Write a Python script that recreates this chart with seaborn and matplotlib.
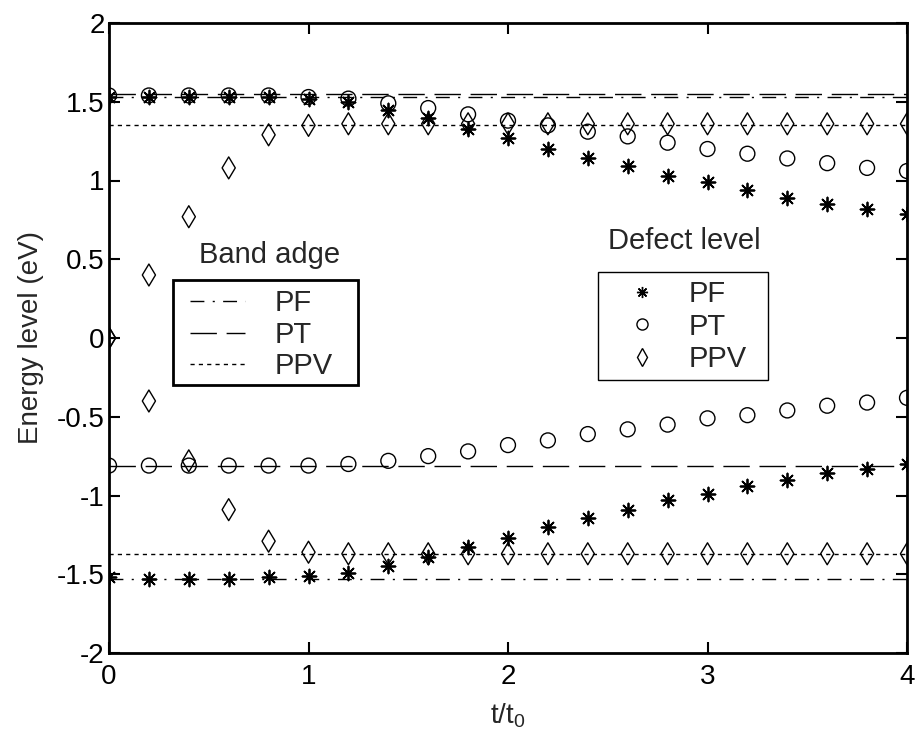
import numpy as np
import pandas as pd
import matplotlib
matplotlib.use("Agg")
import matplotlib.pyplot as plt
import seaborn as sns
from matplotlib.lines import Line2D
from matplotlib.patches import Rectangle

sns.set_theme(style="white")
plt.rcParams['font.family'] = ['Liberation Sans', 'DejaVu Sans']
plt.rcParams['mathtext.fontset'] = 'custom'
plt.rcParams['mathtext.rm'] = 'Liberation Sans'
plt.rcParams['mathtext.it'] = 'Liberation Sans'

t = [0.0, 0.2, 0.4, 0.6, 0.8, 1.0, 1.2, 1.4, 1.6, 1.8, 2.0,
     2.2, 2.4, 2.6, 2.8, 3.0, 3.2, 3.4, 3.6, 3.8, 4.0]

# Band edges (eV)
band_names = ["PF", "PT", "PPV"]
band_upper = [1.53, 1.55, 1.355]
band_lower = [-1.53, -0.815, -1.37]

# Defect levels (eV)
pf_upper = [1.53, 1.53, 1.53, 1.53, 1.53, 1.52, 1.50, 1.45, 1.40, 1.33, 1.27,
            1.20, 1.14, 1.09, 1.03, 0.99, 0.94, 0.89, 0.85, 0.82, 0.79]
pf_lower = [-1.52, -1.53, -1.53, -1.53, -1.52, -1.51, -1.49, -1.45, -1.39, -1.33, -1.27,
            -1.20, -1.14, -1.09, -1.03, -0.99, -0.94, -0.90, -0.86, -0.83, -0.80]
pt_upper = [1.54, 1.54, 1.54, 1.54, 1.54, 1.53, 1.52, 1.49, 1.46, 1.42, 1.38,
            1.35, 1.31, 1.28, 1.24, 1.20, 1.17, 1.14, 1.11, 1.08, 1.06]
pt_lower = [-0.81, -0.81, -0.81, -0.81, -0.81, -0.81, -0.80, -0.78, -0.75, -0.72, -0.68,
            -0.65, -0.61, -0.58, -0.55, -0.51, -0.49, -0.46, -0.43, -0.41, -0.38]
ppv_upper = [0.00, 0.40, 0.77, 1.08, 1.29, 1.35, 1.36, 1.36, 1.36, 1.36, 1.36,
             1.36, 1.36, 1.36, 1.36, 1.36, 1.36, 1.36, 1.36, 1.36, 1.36]
ppv_lower = [0.00, -0.40, -0.78, -1.09, -1.29, -1.36, -1.37, -1.37, -1.37, -1.37, -1.37,
             -1.37, -1.37, -1.37, -1.37, -1.37, -1.37, -1.37, -1.37, -1.37, -1.37]

xticks = [0, 1, 2, 3, 4]
yticks = [-2, -1.5, -1, -0.5, 0, 0.5, 1, 1.5, 2]
ytick_labels = ["-2", "-1.5", "-1", "-0.5", "0", "0.5", "1", "1.5", "2"]

fig = plt.figure(figsize=(9.17, 7.38), dpi=100)
ax = fig.add_axes([109 / 917, 1 - 653 / 738, 798 / 917, 630 / 738])

band_styles = {"PF": (0, (10, 6, 1.5, 6)), "PT": (0, (19, 7)), "PPV": (0, (3, 3))}
for name, up, lo in zip(band_names, band_upper, band_lower):
    ax.axhline(up, color="black", lw=1.0, linestyle=band_styles[name], zorder=1)
    ax.axhline(lo, color="black", lw=1.0, linestyle=band_styles[name], zorder=1)

star = (8, 2, 0)
for vals in (pf_upper, pf_lower):
    sns.scatterplot(x=t, y=vals, marker=star, s=100, color="black",
                    linewidth=1.3, ax=ax, zorder=3, legend=False)
for vals in (pt_upper, pt_lower):
    sns.scatterplot(x=t, y=vals, marker="o", s=115, facecolor="none",
                    edgecolor="black", linewidth=1.0, ax=ax, zorder=3, legend=False)
for vals in (ppv_upper, ppv_lower):
    sns.scatterplot(x=t, y=vals, marker="d", s=125, facecolor="none",
                    edgecolor="black", linewidth=1.0, ax=ax, zorder=3, legend=False)

ax.set_xlim(0, 4)
ax.set_ylim(-2, 2)
ax.set_xticks(xticks)
ax.set_xticklabels([str(v) for v in xticks])
ax.set_yticks(yticks)
ax.set_yticklabels(ytick_labels)
ax.tick_params(direction="in", length=8, width=1.5, labelsize=20,
               top=True, right=True, bottom=True, left=True, colors="black")
ax.tick_params(axis="x", pad=8)
ax.tick_params(axis="y", pad=3)
for sp in ax.spines.values():
    sp.set_linewidth(2.0)
    sp.set_color("black")
ax.set_xlabel("t/t$_0$", fontsize=20, labelpad=8)
ax.set_ylabel("Energy level (eV)", fontsize=20, labelpad=9)

# Legend 1: band edges
h1 = [Line2D([], [], color="black", lw=1.0, linestyle=band_styles[n]) for n in band_names]
leg1 = ax.legend(h1, band_names, loc="center left", bbox_to_anchor=(0.1015, 0.505),
                 fontsize=21, frameon=False, handlelength=1.9,
                 handletextpad=1.0, borderpad=0, labelspacing=0.12, borderaxespad=0)
ax.add_artist(leg1)
ax.add_patch(Rectangle((0.0798, 0.425), 0.2322, 0.167, transform=ax.transAxes,
                       fill=False, edgecolor="black", lw=2.0, zorder=4))
ax.text(0.2018, 0.632, "Band adge", transform=ax.transAxes, fontsize=21,
        ha="center", va="center")

# Legend 2: defect levels
h2 = [Line2D([], [], color="black", lw=1.2, marker=star, markersize=8, linestyle="none"),
      Line2D([], [], color="black", marker="o", markersize=8, markerfacecolor="none",
             linestyle="none"),
      Line2D([], [], color="black", marker="d", markersize=9, markerfacecolor="none",
             linestyle="none")]
leg2 = ax.legend(h2, band_names, loc="center left", bbox_to_anchor=(0.631, 0.518),
                 fontsize=21, frameon=False, handlelength=2.0,
                 handletextpad=0.6, borderpad=0, labelspacing=0.15, borderaxespad=0)
ax.add_patch(Rectangle((0.613, 0.433), 0.213, 0.172, transform=ax.transAxes,
                       fill=False, edgecolor="black", lw=1.0, zorder=4))
ax.text(0.7206, 0.654, "Defect level", transform=ax.transAxes, fontsize=21,
        ha="center", va="center")

fig.savefig("out.png", dpi=100, facecolor="white")
